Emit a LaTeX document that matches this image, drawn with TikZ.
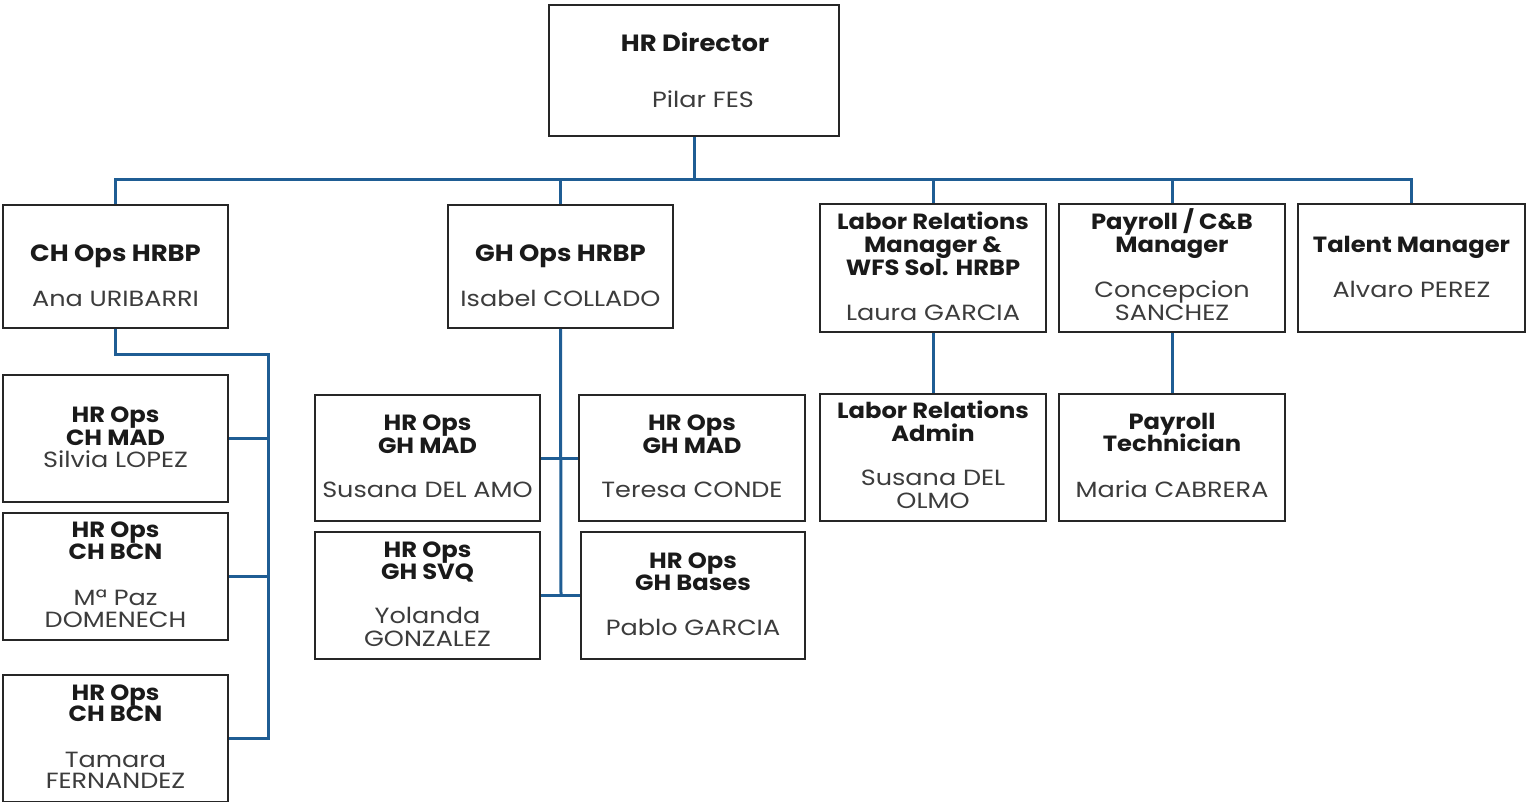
\documentclass[tikz,border=0pt]{standalone}
\usepackage{fontspec}
\setmainfont{Poppins}
\newfontfamily\ttlfont{Poppins}[FakeStretch=1.10]
\newfontfamily\nmfont{Poppins}[FakeStretch=1.16]
\definecolor{linkblue}{HTML}{1F5D94}
\definecolor{framegray}{HTML}{262626}
\definecolor{titleink}{HTML}{1A1A1A}
\definecolor{nameink}{HTML}{3C3C3C}

\tikzset{
  unitbox/.style={draw=framegray, line width=1.8pt, fill=white, inner sep=0pt},
  ttl/.style={font=\ttlfont\fontsize{22}{23}\selectfont\bfseries, text=titleink, inner sep=0pt, anchor=base},
  bigttl/.style={ttl, font=\ttlfont\fontsize{23.5}{24}\selectfont\bfseries},
  nm/.style={font=\nmfont\fontsize{22}{23}\selectfont, text=nameink, inner sep=0pt, anchor=base},
  link/.style={draw=linkblue, line width=3pt},
}

% box given by its left, top, right and bottom edges
\newcommand\orgbox[5]{%
  \pgfmathsetmacro\boxw{#4-#2}\pgfmathsetmacro\boxh{#5-#3}%
  \node[unitbox, minimum width=\boxw pt, minimum height=\boxh pt] (#1) at ({(#2+#4)/2},{(#3+#5)/2}) {};}

\begin{document}
\begin{tikzpicture}[x=1pt, y=-1pt]
\useasboundingbox (0,0) rectangle (1526,804);

% ---- boxes ----
\orgbox{dir}{549}{5}{839}{136}
\orgbox{ch}{3}{205}{228}{328}
\orgbox{gh}{448}{205}{673}{328}
\orgbox{lr}{820}{204}{1046}{332}
\orgbox{pay}{1059}{204}{1285}{332}
\orgbox{tal}{1298}{204}{1525}{332}
\orgbox{chmad}{3}{375}{228}{502}
\orgbox{chbcn}{3}{513}{228}{640}
\orgbox{chbcnb}{3}{675}{228}{801.5}
\orgbox{ghmad}{315}{395}{540}{521}
\orgbox{ghmadb}{579}{395}{805}{521}
\orgbox{ghsvq}{315}{532}{540}{659}
\orgbox{ghbas}{581}{532}{805}{659}
\orgbox{lradm}{820}{394}{1046}{521}
\orgbox{paytec}{1059}{394}{1285}{521}

% ---- connectors ----
\coordinate (bus) at (694,179);
\draw[link] (dir.south) -- (bus);
\draw[link] (ch.north) |- (bus) -| (tal.north);
\draw[link] (gh.north) -- (gh.north |- bus);
\draw[link] (lr.north) -- (lr.north |- bus);
\draw[link] (pay.north) -- (pay.north |- bus);

\coordinate (chrail) at (268,354);
\draw[link] (ch.south) |- (chrail) |- (chbcnb.east);
\draw[link] (chmad.east) -- (chmad.east -| chrail);
\draw[link] (chbcn.east) -- (chbcn.east -| chrail);

\coordinate (ghrail) at (561,596);
\draw[link] (gh.south) -- (ghrail);
\draw[link] (ghmad.east) -- (ghmadb.west);
\draw[link] (ghsvq.east) -- (ghbas.west);
\draw[link] (lr.south) -- (lradm.north);
\draw[link] (pay.south) -- (paytec.north);

% ---- texts ----
\node[bigttl] (dir-t) at (695,51) {HR Director};
\node[nm]  (dir-n) at (703,107) {Pilar FES};

\node[bigttl] (ch-t) at (115.5,261) {CH Ops HRBP};
\node[nm]  (ch-n) at (115.5,306) {Ana URIBARRI};
\node[bigttl] (gh-t) at (560.5,261) {GH Ops HRBP};
\node[nm]  (gh-n) at (560.5,306) {Isabel COLLADO};

\node[ttl] (lr-t1) at (933,229) {Labor Relations};
\node[ttl] (lr-t2) at (933,252) {Manager \&};
\node[ttl] (lr-t3) at (933,275) {WFS Sol. HRBP};
\node[nm]  (lr-n)  at (933,320) {Laura GARCIA};

\node[ttl] (pay-t1) at (1172,229) {Payroll / C\&B};
\node[ttl] (pay-t2) at (1172,252) {Manager};
\node[nm]  (pay-n1) at (1172,297) {Concepcion};
\node[nm]  (pay-n2) at (1172,320) {SANCHEZ};

\node[ttl] (tal-t) at (1411.5,252) {Talent Manager};
\node[nm]  (tal-n) at (1411.5,297) {Alvaro PEREZ};

\node[ttl] (chmad-t1) at (115.5,422) {HR Ops};
\node[ttl] (chmad-t2) at (115.5,445) {CH MAD};
\node[nm]  (chmad-n)  at (115.5,467) {Silvia LOPEZ};

\node[ttl] (chbcn-t1) at (115.5,537) {HR Ops};
\node[ttl] (chbcn-t2) at (115.5,559) {CH BCN};
\node[nm]  (chbcn-n1) at (115.5,605) {Mª Paz};
\node[nm]  (chbcn-n2) at (115.5,627) {DOMENECH};

\node[ttl] (chbcnb-t1) at (115.5,700) {HR Ops};
\node[ttl] (chbcnb-t2) at (115.5,721) {CH BCN};
\node[nm]  (chbcnb-n1) at (115.5,767) {Tamara};
\node[nm]  (chbcnb-n2) at (115.5,788) {FERNANDEZ};

\node[ttl] (ghmad-t1) at (427.5,430) {HR Ops};
\node[ttl] (ghmad-t2) at (427.5,453) {GH MAD};
\node[nm]  (ghmad-n)  at (427.5,497) {Susana DEL AMO};

\node[ttl] (ghmadb-t1) at (692,430) {HR Ops};
\node[ttl] (ghmadb-t2) at (692,453) {GH MAD};
\node[nm]  (ghmadb-n)  at (692,497) {Teresa CONDE};

\node[ttl] (ghsvq-t1) at (427.5,557) {HR Ops};
\node[ttl] (ghsvq-t2) at (427.5,579) {GH SVQ};
\node[nm]  (ghsvq-n1) at (427.5,623) {Yolanda};
\node[nm]  (ghsvq-n2) at (427.5,646) {GONZALEZ};

\node[ttl] (ghbas-t1) at (693,568) {HR Ops};
\node[ttl] (ghbas-t2) at (693,590) {GH Bases};
\node[nm]  (ghbas-n)  at (693,635) {Pablo GARCIA};

\node[ttl] (lradm-t1) at (933,418) {Labor Relations};
\node[ttl] (lradm-t2) at (933,441) {Admin};
\node[nm]  (lradm-n1) at (933,485) {Susana DEL};
\node[nm]  (lradm-n2) at (933,508) {OLMO};

\node[ttl] (paytec-t1) at (1172,429) {Payroll};
\node[ttl] (paytec-t2) at (1172,451) {Technician};
\node[nm]  (paytec-n)  at (1172,497) {Maria CABRERA};
\end{tikzpicture}
\end{document}
